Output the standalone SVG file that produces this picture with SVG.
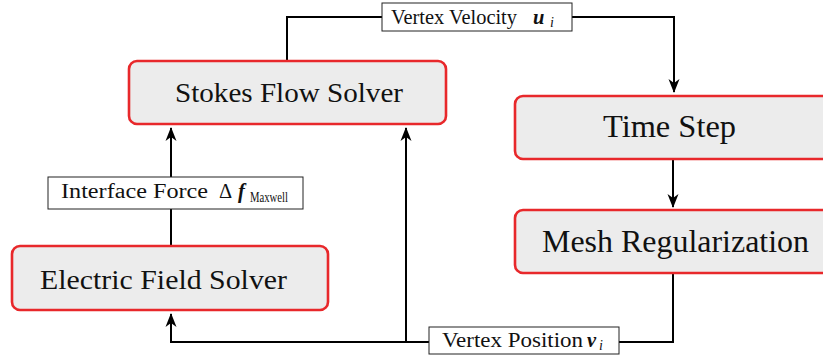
<svg xmlns="http://www.w3.org/2000/svg" width="823" height="356" viewBox="0 0 823 356">
<style>
.node{fill:#ececec;stroke:#e8282b;stroke-width:2.6}
.big{font-family:"Liberation Serif","DejaVu Serif",serif;fill:#111}
.lbl{fill:#fff;stroke:#222;stroke-width:1}
.sm{font-family:"Liberation Serif","DejaVu Serif",serif;font-size:20.5px;fill:#111}
.sub{font-size:14px}
.wire{fill:none;stroke:#000;stroke-width:2}
.bi{font-weight:bold;font-style:italic}
.it{font-style:italic}
</style>
<defs>
<marker id="ah" viewBox="-14 -7 16 14" markerWidth="16" markerHeight="14" refX="0" refY="0" orient="auto" markerUnits="userSpaceOnUse">
<path d="M1,0 L-13,-5.5 L-9,0 L-13,5.5 Z" fill="#000"/>
</marker>
</defs>
<g id="connectors">
<path class="wire" d="M287,61 V17 H674 V92" marker-end="url(#ah)"/>
<path class="wire" d="M673,159 V207" marker-end="url(#ah)"/>
<path class="wire" d="M673,274 V342 H171 V314" marker-end="url(#ah)"/>
<path class="wire" d="M406,342 V128" marker-end="url(#ah)"/>
<path class="wire" d="M171,246 V128" marker-end="url(#ah)"/>
</g>
<g id="stokes">
<rect class="node" x="129" y="61" width="317" height="63" rx="8"/>
<text class="big" x="175" y="102" font-size="27.5" textLength="228" lengthAdjust="spacingAndGlyphs">Stokes Flow Solver</text>
</g>
<g id="timestep">
<rect class="node" x="515" y="96" width="330" height="63" rx="8"/>
<text class="big" x="603" y="137" font-size="30.5" textLength="133" lengthAdjust="spacingAndGlyphs">Time Step</text>
</g>
<g id="mesh">
<rect class="node" x="515" y="210" width="330" height="63" rx="8"/>
<text class="big" x="542" y="252" font-size="30.5" textLength="267" lengthAdjust="spacingAndGlyphs">Mesh Regularization</text>
</g>
<g id="electric">
<rect class="node" x="12" y="246" width="316" height="64" rx="8"/>
<text class="big" x="40" y="289" font-size="27.5" textLength="247" lengthAdjust="spacingAndGlyphs">Electric Field Solver</text>
</g>
<g id="label-velocity">
<rect class="lbl" x="382" y="3" width="190" height="28"/>
<text class="sm" x="391" y="24" textLength="126" lengthAdjust="spacingAndGlyphs">Vertex Velocity</text>
<text class="sm bi" x="533" y="24">u</text>
<text class="sm it sub" x="550" y="27">i</text>
</g>
<g id="label-force">
<rect class="lbl" x="48" y="177" width="255" height="32"/>
<text class="sm" x="61" y="198" textLength="147" lengthAdjust="spacingAndGlyphs">Interface Force</text>
<text class="sm" x="219" y="198">Δ</text>
<text class="sm bi" x="238" y="198">f</text>
<text class="sm sub" x="250" y="202" textLength="38" lengthAdjust="spacingAndGlyphs">Maxwell</text>
</g>
<g id="label-position">
<rect class="lbl" x="429" y="327" width="190" height="27"/>
<text class="sm" x="442" y="347" textLength="141" lengthAdjust="spacingAndGlyphs">Vertex Position</text>
<text class="sm bi" x="587" y="347">v</text>
<text class="sm it sub" x="599" y="350">i</text>
</g>
</svg>
